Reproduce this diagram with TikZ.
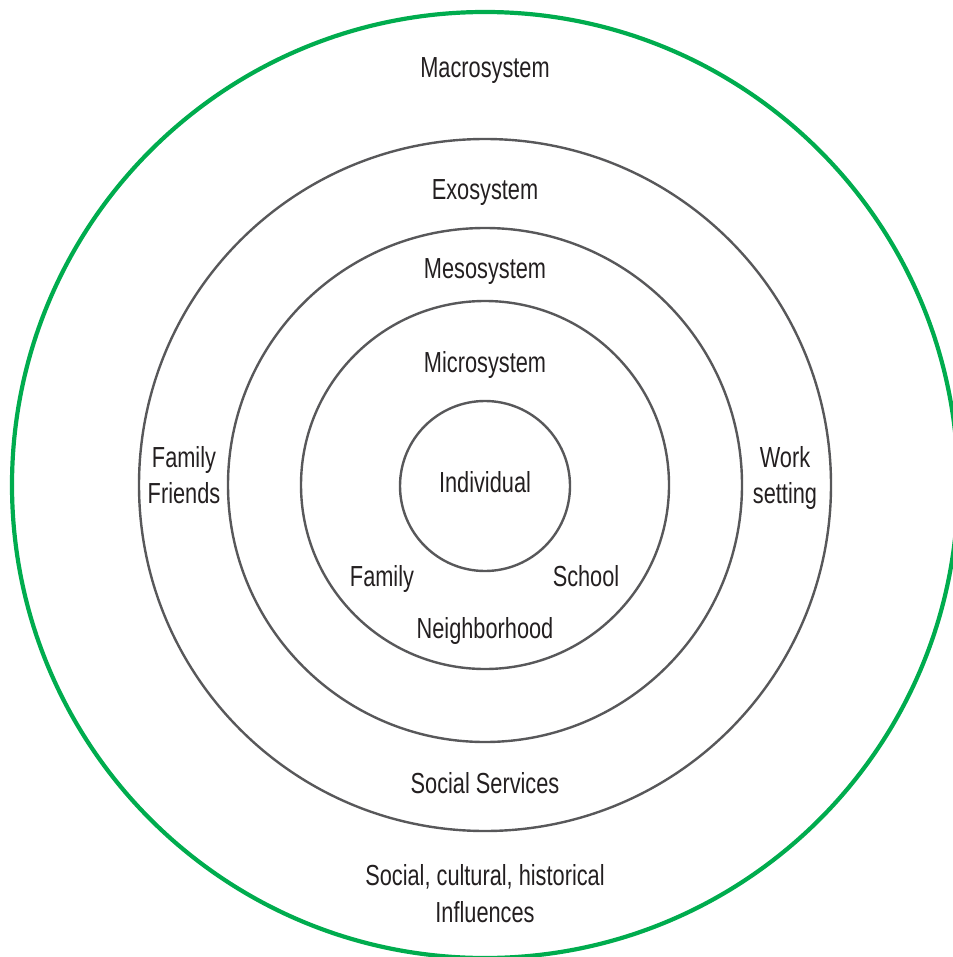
\documentclass[tikz,border=0pt]{standalone}
\usepackage{fontspec}
\setmainfont{Liberation Sans}[FakeStretch=0.75]
\definecolor{ringgray}{HTML}{58585A}
\definecolor{ringgreen}{HTML}{00AC4E}
\definecolor{ink}{HTML}{231F20}
\begin{document}
\begin{tikzpicture}[x=1pt,y=-1pt,
  ring/.style={circle, draw=ringgray, line width=2.4pt, inner sep=0pt, outer sep=0pt},
  outerring/.style={ring, draw=ringgreen, line width=4.2pt},
  lbl/.style={text=ink, font=\fontsize{29}{36}\selectfont, inner sep=0pt, anchor=base}]
\useasboundingbox (0,0) rectangle (952,957);
\coordinate (c) at (485,485);

% nested system rings
\node[outerring, minimum size=946pt] (macro) at (c) {};
\node[ring, minimum size=692pt] (exo)   at (c) {};
\node[ring, minimum size=514pt] (meso)  at (c) {};
\node[ring, minimum size=368pt] (micro) at (c) {};
\node[ring, minimum size=170pt] (indiv) at (485,486) {};

% ring titles
\node[lbl] (tmacro) at (485,78)  {Macrosystem};
\node[lbl] (texo)   at (485,200) {Exosystem};
\node[lbl] (tmeso)  at (485,279) {Mesosystem};
\node[lbl] (tmicro) at (485,372) {Microsystem};
\node[lbl] (tindiv) at (485,492) {Individual};

% exosystem contents
\node[lbl] (fam1)  at (184,467) {Family};
\node[lbl] (fam2)  at (184,503) {Friends};
\node[lbl] (work1) at (785,467) {Work};
\node[lbl] (work2) at (785,503) {setting};
\node[lbl] (soc)   at (485,793) {Social Services};

% microsystem contents
\node[lbl] (family) at (382,586) {Family};
\node[lbl] (school) at (586,586) {School};
\node[lbl] (neigh)  at (485,638) {Neighborhood};

% macrosystem contents
\node[lbl] (infl1) at (485,885) {Social, cultural, historical};
\node[lbl] (infl2) at (485,922) {Influences};
\end{tikzpicture}
\end{document}
